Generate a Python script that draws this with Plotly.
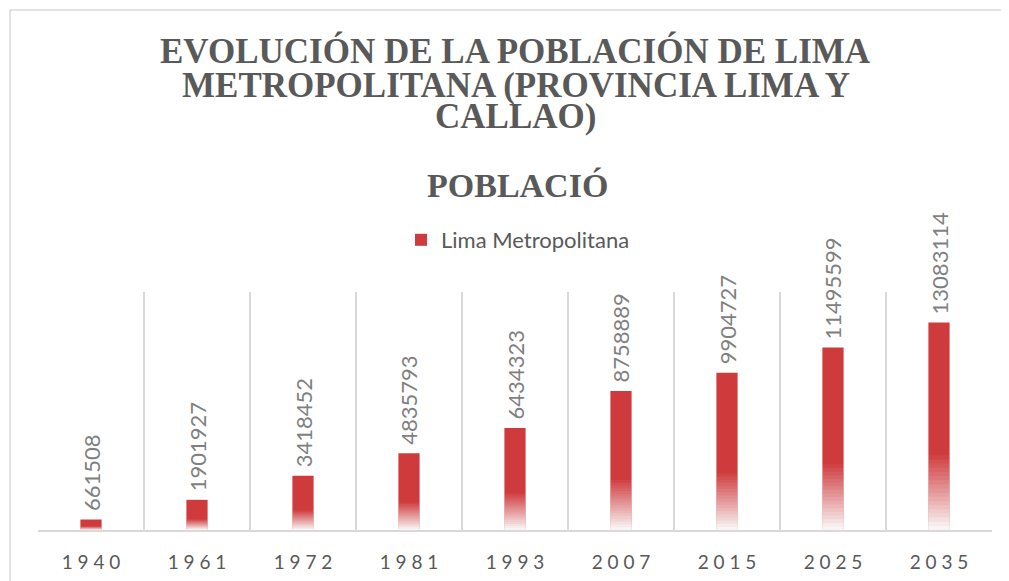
import plotly.graph_objects as go

# ---- data ----
years = ["1940", "1961", "1972", "1981", "1993", "2007", "2015", "2025", "2035"]
poblacion = [661508, 1901927, 3418452, 4835793, 6434323, 8758889, 9904727, 11495599, 13083114]
series_name = "Lima Metropolitana"
title_lines = ["EVOLUCIÓN DE LA POBLACIÓN DE LIMA",
               "METROPOLITANA (PROVINCIA LIMA Y",
               "CALLAO)"]
subtitle = "POBLACIÓ"

# ---- style ----
OFF = 8  # page body margin
W, H = 1009 - OFF, 581 - OFF
ML, MR, MT, MB = 38 - OFF, 17, 292 - OFF, 51
PH = H - MT - MB
PW = W - ML - MR
RED = "#CF3A3C"
GRAY_TXT = "#595959"
LABEL_TXT = "#7F7F7F"
GRID = "#D9D9D9"
BAR_W = 0.2
YMAX = 15_000_000


def py2paper(py):
    """screen y pixel -> paper coordinate"""
    return (H - MB - (py - OFF)) / PH


def px2paper(px):
    """screen x pixel -> paper coordinate"""
    return (px - OFF - ML) / PW


fig = go.Figure()
fig.add_trace(go.Bar(
    x=years, y=poblacion, name=series_name, width=BAR_W,
    marker=dict(color=RED, line=dict(width=0)),
))

# white fade overlays at the bottom of each bar (gradient imitation)
N = 18
GRAD_FRAC = 0.36
AMAX = 0.97
targets = [(N - m + 1) / N * AMAX for m in range(1, N + 1)]
for m in range(1, N + 1):
    c_m = targets[m - 1]
    c_next = targets[m] if m < N else 0.0
    alpha = 1 - (1 - c_m) / (1 - c_next)
    frac = GRAD_FRAC * m / N
    fig.add_trace(go.Bar(
        x=years, y=[v * frac for v in poblacion], width=BAR_W,
        marker=dict(color=f"rgba(255,255,255,{alpha:.4f})", line=dict(width=0)),
        showlegend=False, hoverinfo="skip",
    ))

# data labels (category index positions)
for i, v in enumerate(poblacion):
    fig.add_annotation(x=i, y=v, xref="x", yref="y", text=str(v), showarrow=False,
                       textangle=-90, yanchor="bottom", xanchor="center", yshift=6,
                       font=dict(family="Lato", size=22, color=LABEL_TXT))

# titles
title_y = [51, 85, 116]
for line, ypx in zip(title_lines, title_y):
    fig.add_annotation(x=px2paper(516), y=py2paper(ypx), xref="paper", yref="paper", text=line,
                       showarrow=False, xanchor="center", yanchor="middle",
                       font=dict(family="Liberation Serif", size=35, color=GRAY_TXT, weight="bold"))
fig.add_annotation(x=px2paper(517), y=py2paper(185), xref="paper", yref="paper", text=subtitle,
                   showarrow=False, xanchor="center", yanchor="middle",
                   font=dict(family="Liberation Serif", size=34, color=GRAY_TXT, weight="bold"))

# chart border (partially visible)
fig.add_shape(type="rect", xref="paper", yref="paper",
              x0=px2paper(10), x1=px2paper(1040), y0=py2paper(620), y1=py2paper(10),
              line=dict(color=GRID, width=1.5), fillcolor="rgba(0,0,0,0)", layer="below")

fig.update_layout(
    width=W, height=H,
    margin=dict(l=ML, r=MR, t=MT, b=MB, autoexpand=False),
    paper_bgcolor="white", plot_bgcolor="white",
    barmode="overlay",
    showlegend=True,
    legend=dict(orientation="h", x=px2paper(518), xanchor="center", y=py2paper(240), yanchor="middle",
                font=dict(family="Lato", size=22, color=GRAY_TXT), itemclick=False),
    xaxis=dict(type="category", tickmode="array", tickvals=years,
               ticktext=[" ".join(y) for y in years], tickangle=0,
               tickfont=dict(family="Lato", size=19, color=GRAY_TXT),
               showline=True, linecolor=GRID, linewidth=2,
               showgrid=True, gridcolor=GRID, gridwidth=1.5, tickson="boundaries",
               ticks="", ticklabelstandoff=14,
               automargin=False, fixedrange=True),
    yaxis=dict(range=[0, YMAX], visible=False, fixedrange=True),
)

fig.write_html("out.html")
